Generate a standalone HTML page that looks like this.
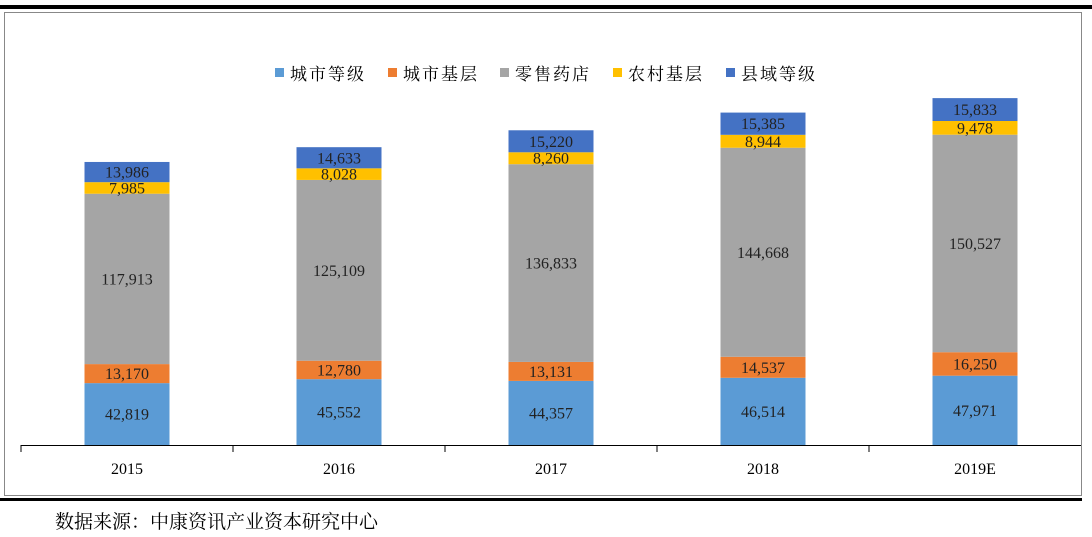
<!DOCTYPE html>
<html><head><meta charset="utf-8"><style>
body{margin:0;background:#fff;width:1092px;height:537px;overflow:hidden}
svg{display:block;font-family:"Liberation Serif","Noto Serif CJK SC","WenQuanYi Zen Hei",serif}
</style></head><body>
<svg width="1092" height="537">
<rect x="0" y="5" width="1092" height="4" fill="#000"/>
<rect x="4.5" y="12.5" width="1077" height="483" fill="none" stroke="#888"/>
<rect x="0" y="498" width="1082" height="3" fill="#000"/>
<g id="legend"></g>
<g id="plot"></g>
<text x="55" y="528" font-size="19" fill="#000">数据来源：中康资讯产业资本研究中心</text>
</svg>
<script>
const categories=["2015","2016","2017","2018","2019E"];
const seriesNames=["城市等级","城市基层","零售药店","农村基层","县域等级"];
const s1=[42819,45552,44357,46514,47971];
const s2=[13170,12780,13131,14537,16250];
const s3=[117913,125109,136833,144668,150527];
const s4=[7985,8028,8260,8944,9478];
const s5=[13986,14633,15220,15385,15833];
const colors=["#5b9bd5","#ed7d31","#a5a5a5","#ffc000","#4472c4"];
const series=[s1,s2,s3,s4,s5];
const NS="http://www.w3.org/2000/svg";
const base=445, k=0.001445, x0=21, step=212, bw=85;
const y=v=>base-v*k;
const xc=i=>x0+step*i+step/2;
const plot=document.getElementById('plot');
function mk(t,a,p){const e=document.createElementNS(NS,t);for(const q in a)e.setAttribute(q,a[q]);p.appendChild(e);return e;}
categories.forEach((c,i)=>{
 let acc=0;
 series.forEach((s,j)=>{
  const v=s[i];
  const r=mk('rect',{x:xc(i)-bw/2,y:y(acc+v),width:bw,height:v*k,fill:colors[j]},plot);
  
  
  const t=mk('text',{x:xc(i),y:y(acc+v/2)+5.5,'text-anchor':'middle','font-size':16,fill:'#222'},plot);
  t.textContent=v.toLocaleString('en-US');
  
  
  acc+=v;
 });
 const l=mk('text',{x:xc(i),y:474,'text-anchor':'middle','font-size':16,fill:'#000'},plot);
 l.textContent=c;
 
 
 const tk=mk('line',{x1:x0+step*i,x2:x0+step*i,y1:base,y2:452,stroke:'#000'},plot);
 
 
});
const ax=mk('line',{x1:x0,x2:1081,y1:base+0.5,y2:base+0.5,stroke:'#000'},plot);


const lg=document.getElementById('legend');
const lx=[275,388,500,613,726];
seriesNames.forEach((n,j)=>{
 const r=mk('rect',{x:lx[j],y:68,width:9,height:9,fill:colors[j]},lg);
 
 
 const t=mk('text',{x:lx[j]+15,y:80,'font-size':17,'letter-spacing':2,fill:'#000'},lg);
 t.textContent=n;
 
 
});
</script>
</body></html>
